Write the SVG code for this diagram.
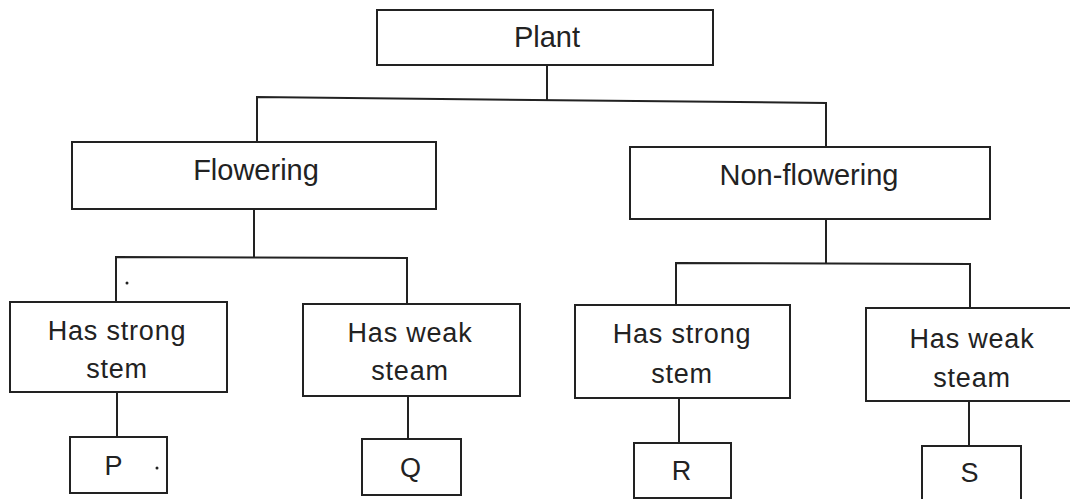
<svg xmlns="http://www.w3.org/2000/svg" width="1070" height="499" viewBox="0 0 1070 499">
<style>
.box{fill:#fff;stroke:#222;stroke-width:2}
.con{fill:none;stroke:#222;stroke-width:2}
.t{font-family:"Liberation Sans",Arial,sans-serif;fill:#222;text-anchor:middle}
.big{font-size:29px}
.sm{font-size:27px;letter-spacing:0.8px}
</style>
<rect width="1070" height="499" fill="#fff"/>
<g id="connectors">
<path class="con" d="M547,65 V100"/>
<path class="con" d="M257,142 V97 L826,103 V147"/>
<path class="con" d="M254,209 V257"/>
<path class="con" d="M116,302 V257 L407,258 V304"/>
<path class="con" d="M826,219 V263"/>
<path class="con" d="M676,306 V263 L970,264 V310"/>
<path class="con" d="M117,392 V437"/>
<path class="con" d="M408,396 V439"/>
<path class="con" d="M679,398 V443"/>
<path class="con" d="M969,401 V446"/>
</g>
<g id="plant"><rect class="box" x="377" y="10" width="336" height="55"/><text class="t big" x="547" y="47">Plant</text></g>
<g id="flowering"><rect class="box" x="72" y="142" width="364" height="67"/><text class="t big" x="256" y="180">Flowering</text></g>
<g id="nonflowering"><rect class="box" x="630" y="147" width="360" height="72"/><text class="t big" x="809" y="185">Non-flowering</text></g>
<g id="strong1"><rect class="box" x="10" y="302" width="217" height="90"/><text class="t sm" x="117" y="340">Has strong</text><text class="t sm" x="117" y="378">stem</text></g>
<g id="weak1"><rect class="box" x="303" y="304" width="217" height="92"/><text class="t sm" x="410" y="342">Has weak</text><text class="t sm" x="410" y="380">steam</text></g>
<g id="strong2"><rect class="box" x="575" y="305" width="215" height="93"/><text class="t sm" x="682" y="343">Has strong</text><text class="t sm" x="682" y="383">stem</text></g>
<g id="weak2"><rect class="box" x="866" y="308" width="210" height="93"/><text class="t sm" x="972" y="348">Has weak</text><text class="t sm" x="972" y="387">steam</text></g>
<g id="P"><rect class="box" x="70" y="437" width="97" height="56"/><text class="t sm" x="114" y="475">P</text></g>
<g id="Q"><rect class="box" x="362" y="439" width="99" height="56"/><text class="t sm" x="411" y="477">Q</text></g>
<g id="R"><rect class="box" x="634" y="443" width="97" height="55"/><text class="t sm" x="682" y="480">R</text></g>
<g id="S"><rect class="box" x="922" y="446" width="99" height="60"/><text class="t sm" x="970" y="482">S</text></g>
<circle cx="127" cy="283" r="1.5" fill="#222"/>
<circle cx="157" cy="468" r="1.5" fill="#222"/>
</svg>
